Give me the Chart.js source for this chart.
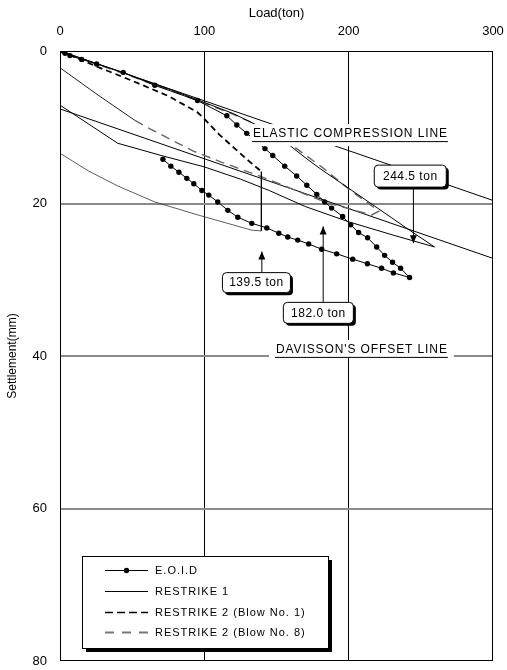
<!DOCTYPE html>
<html>
<head>
<meta charset="utf-8">
<script src="https://cdn.jsdelivr.net/npm/chart.js@4.4.0/dist/chart.umd.min.js"></script>
<style>
  html, body { margin: 0; padding: 0; background: #fff; }
</style>
</head>
<body>
<canvas id="chart" width="507" height="670"></canvas>
<script>
"use strict";

// axes
const loadTicks = [0, 100, 200, 300];
const settleTicks = [0, 20, 40, 60, 80];

// E.O.I.D (loading then unloading)
const eoidLoad = [0, 3.5, 6.9, 15, 25.4, 43.8, 65.7, 95.3, 115.6, 122.5, 129.4, 137, 142, 147.4, 155.7, 164, 171, 177.9, 183.4,
  188.2, 195.8, 201.4, 206.9, 213.1, 219.4, 224.9, 230.4, 236, 242.2,
  231, 222.8, 213, 202.8, 191.7, 181.3, 172.3, 164.7, 157.8, 151.6, 143.3, 132.9, 123.2, 116.3, 109.3, 103.1, 98.3, 92.7,
  87.9, 82.4, 76.8, 71.3];
const eoidSettle = [0, 0.3, 0.6, 1.1, 1.7, 2.8, 4.5, 6.5, 8.5, 9.7, 10.8, 12.0, 12.8, 13.7, 15.1, 16.4, 17.6, 18.8, 19.8,
  20.6, 21.7, 22.8, 23.8, 24.5, 25.7, 26.8, 27.7, 28.5, 29.7,
  29.1, 28.5, 27.9, 27.3, 26.6, 26.0, 25.3, 24.8, 24.4, 23.9, 23.2, 22.6, 21.8, 20.9, 19.8, 18.9, 18.3, 17.4,
  16.7, 15.9, 15.1, 14.2];

// RESTRIKE 1
const r1Load = [0, 40, 80, 120, 150, 170, 180, 200, 220, 244.5, 259.5, 230, 200, 170, 145, 125, 100, 70, 40, 20, 0];
const r1Settle = [0, 2.6, 5.3, 8.2, 11.0, 14.0, 15.4, 18.0, 20.6, 23.8, 25.7, 24.1, 22.4, 20.4, 18.3, 16.8, 15.2, 13.7, 12.1, 9.6, 7.1];

// RESTRIKE 2 (Blow No. 1)
const b1Load = [0, 25, 50, 75, 95, 100, 110, 120, 130, 139.5, 139.5, 133, 95.5, 65.7, 40, 19.4, 0];
const b1Settle = [0, 2.0, 3.9, 5.9, 8.0, 8.9, 10.9, 12.6, 14.3, 15.8, 23.6, 23.5, 21.5, 19.8, 17.7, 15.7, 13.4];

// RESTRIKE 2 (Blow No. 8)
const b8Load = [0, 40, 80, 120, 145, 161, 182, 200, 221, 216, 184.8, 138.4, 112.1, 92, 62.3, 51.9, 25, 0];
const b8Settle = [0, 2.7, 5.4, 8.3, 10.4, 12.4, 15.3, 18.1, 21.0, 21.5, 19.9, 16.4, 14.6, 13.1, 10.2, 9.1, 5.6, 2.2];

// reference lines
const elasticLoad = [0, 300];
const elasticSettle = [0, 19.6];
const davissonLoad = [0, 300];
const davissonSettle = [7.6, 27.2];

// capacities
const capacityLabels = ['244.5 ton', '182.0 ton', '139.5 ton'];
const capacityLoads = [244.5, 182.0, 139.5];

const pts = (xs, ys) => xs.map((v, i) => ({ x: v, y: ys[i] }));

// where the annotation boxes sit (data units for anchors)
const calloutPos = [
  { boxLoad: 217.4, boxSettle: 14.9, w: 72, h: 22, tipSettle: 25.2, down: true },
  { boxLoad: 154.4, boxSettle: 32.9, w: 70, h: 21, tipSettle: 23.0, down: false },
  { boxLoad: 112.2, boxSettle: 29.0, w: 68, h: 20, tipSettle: 26.3, down: false }
];
const lineLabels = [
  { text: 'ELASTIC COMPRESSION LINE', load: 133.7, settle: 10.9, padL: 3, padR: 5, top: 10, bottom: 12 },
  { text: "DAVISSON'S OFFSET LINE", load: 149.6, settle: 39.2, padL: 7, padR: 6, top: 10, bottom: 8 }
];
const legendItems = ['E.O.I.D', 'RESTRIKE 1', 'RESTRIKE 2 (Blow No. 1)', 'RESTRIKE 2 (Blow No. 8)'];

const FONT = '"Liberation Sans", Arial, sans-serif';
Chart.defaults.font.family = FONT;
Chart.defaults.color = '#000';

function roundRect(ctx, x, y, w, h, r) {
  ctx.beginPath();
  ctx.moveTo(x + r, y);
  ctx.arcTo(x + w, y, x + w, y + h, r);
  ctx.arcTo(x + w, y + h, x, y + h, r);
  ctx.arcTo(x, y + h, x, y, r);
  ctx.arcTo(x, y, x + w, y, r);
  ctx.closePath();
}

const overlay = {
  id: 'overlay',
  afterDatasetsDraw(chart) {
    const { ctx, chartArea: a, scales: { x, y } } = chart;
    ctx.save();

    // plot frame
    ctx.strokeStyle = '#000';
    ctx.lineWidth = 1;
    ctx.strokeRect(a.left + 0.5, a.top + 0.5, a.right - a.left - 1, a.bottom - a.top - 1);

    // line labels with underline
    ctx.font = '12px ' + FONT;
    ctx.letterSpacing = '0.9px';
    ctx.textBaseline = 'middle';
    ctx.textAlign = 'left';
    lineLabels.forEach(l => {
      const px = x.getPixelForValue(l.load);
      const py = y.getPixelForValue(l.settle);
      const w = ctx.measureText(l.text).width;
      ctx.fillStyle = '#fff';
      ctx.fillRect(px - l.padL, py - l.top, w + l.padL + l.padR, l.top + l.bottom);
      ctx.fillStyle = '#000';
      ctx.fillText(l.text, px, py);
      ctx.beginPath();
      ctx.moveTo(px - 1, py + 7.5);
      ctx.lineTo(px + w, py + 7.5);
      ctx.lineWidth = 1;
      ctx.stroke();
    });

    // capacity callouts
    ctx.letterSpacing = '0.5px';
    ctx.textAlign = 'center';
    calloutPos.forEach((c, i) => {
      const bx = x.getPixelForValue(c.boxLoad);
      const by = y.getPixelForValue(c.boxSettle);
      const ax = x.getPixelForValue(capacityLoads[i]);
      const tip = y.getPixelForValue(c.tipSettle);
      const start = c.down ? by + c.h : by;
      ctx.strokeStyle = '#000';
      ctx.lineWidth = 1;
      ctx.beginPath();
      ctx.moveTo(ax + 0.5, start);
      ctx.lineTo(ax + 0.5, tip);
      ctx.stroke();
      const dir = c.down ? -1 : 1;
      ctx.fillStyle = '#000';
      ctx.beginPath();
      ctx.moveTo(ax + 0.5, tip);
      ctx.lineTo(ax + 0.5 - 3.5, tip + dir * 8);
      ctx.lineTo(ax + 0.5 + 3.5, tip + dir * 8);
      ctx.closePath();
      ctx.fill();
      // box with shadow
      roundRect(ctx, bx + 3, by + 3, c.w, c.h, 4);
      ctx.fill();
      roundRect(ctx, bx + 0.5, by + 0.5, c.w, c.h, 4);
      ctx.fillStyle = '#fff';
      ctx.fill();
      ctx.stroke();
      ctx.fillStyle = '#000';
      ctx.fillText(capacityLabels[i], bx + c.w / 2 + 0.5, by + c.h / 2 + 1);
    });

    // legend box
    const L = 82, T = 556, R = 328, B = 648;
    ctx.fillStyle = '#000';
    ctx.fillRect(L + 4, T + 4, R - L, B - T);
    ctx.fillStyle = '#fff';
    ctx.fillRect(L, T, R - L, B - T);
    ctx.strokeStyle = '#000';
    ctx.lineWidth = 1;
    ctx.strokeRect(L + 0.5, T + 0.5, R - L, B - T);
    const rows = [570, 591, 612, 632];
    const styles = [
      { color: '#000', dash: [], width: 1, dot: true },
      { color: '#000', dash: [], width: 1, dot: false },
      { color: '#000', dash: [8, 4], width: 1.5, dot: false },
      { color: '#777', dash: [9, 8], width: 1.8, dot: false }
    ];
    ctx.font = '11px ' + FONT;
    ctx.letterSpacing = '1px';
    ctx.textAlign = 'left';
    legendItems.forEach((t, i) => {
      const s = styles[i];
      ctx.save();
      ctx.strokeStyle = s.color;
      ctx.lineWidth = s.width;
      ctx.setLineDash(s.dash);
      ctx.beginPath();
      ctx.moveTo(105, rows[i] + 0.5);
      ctx.lineTo(148, rows[i] + 0.5);
      ctx.stroke();
      ctx.restore();
      if (s.dot) {
        ctx.fillStyle = '#000';
        ctx.beginPath();
        ctx.arc(126.5, rows[i] + 0.5, 2.7, 0, Math.PI * 2);
        ctx.fill();
      }
      ctx.fillStyle = '#000';
      ctx.fillText(t, 155, rows[i] + 1);
    });
    ctx.restore();
  }
};

const b1Split = 9;   // after the plunge the curve is drawn solid
const b8Split = 15;

new Chart(document.getElementById('chart'), {
  type: 'line',
  data: {
    datasets: [
      {
        label: 'E.O.I.D', data: pts(eoidLoad, eoidSettle),
        borderColor: '#000', borderWidth: 1, pointRadius: 2.7, pointBackgroundColor: '#000',
        pointBorderWidth: 0, tension: 0
      },
      {
        label: 'RESTRIKE 1', data: pts(r1Load, r1Settle),
        borderColor: '#000', borderWidth: 1, pointRadius: 0, tension: 0
      },
      {
        label: 'RESTRIKE 2 (Blow No. 1)', data: pts(b1Load, b1Settle),
        borderColor: '#000', borderWidth: 1.8, borderDash: [6, 4], pointRadius: 0, tension: 0,
        segment: {
          borderDash: c => c.p0DataIndex >= b1Split ? [] : [6, 4],
          borderWidth: c => c.p0DataIndex > b1Split ? 0.8 : (c.p0DataIndex === b1Split ? 1.3 : 1.8),
          borderColor: c => c.p0DataIndex > b1Split ? '#333' : '#000'
        }
      },
      {
        label: 'RESTRIKE 2 (Blow No. 8)', data: pts(b8Load, b8Settle),
        borderColor: '#666', borderWidth: 1.4, borderDash: [9, 6], pointRadius: 0, tension: 0,
        segment: {
          borderDash: c => c.p0DataIndex >= b8Split ? [] : [9, 6],
          borderColor: c => c.p0DataIndex >= b8Split ? '#222' : '#666',
          borderWidth: c => c.p0DataIndex >= b8Split ? 1 : 1.4
        }
      },
      {
        label: 'elastic', data: pts(elasticLoad, elasticSettle),
        borderColor: '#000', borderWidth: 1, pointRadius: 0
      },
      {
        label: 'davisson', data: pts(davissonLoad, davissonSettle),
        borderColor: '#000', borderWidth: 1, pointRadius: 0
      }
    ]
  },
  options: {
    responsive: false,
    animation: false,
    events: [],
    layout: { padding: { left: 0, right: 14, top: 0, bottom: 9 } },
    plugins: { legend: { display: false }, tooltip: { enabled: false } },
    scales: {
      x: {
        type: 'linear', position: 'top', min: 0, max: 300,
        afterFit: s => { s.height = 51; s.paddingLeft = 0; s.paddingRight = 0; s.paddingTop = 0; s.paddingBottom = 0; },
        afterBuildTicks: s => { s.ticks = loadTicks.map(v => ({ value: v })); },
        ticks: { font: { size: 13 }, padding: 12, color: '#000' },
        grid: {
          drawTicks: false, lineWidth: 1,
          color: c => (c.tick && (c.tick.value === 100 || c.tick.value === 200)) ? '#000' : 'rgba(0,0,0,0)'
        },
        border: { display: false },
        title: { display: true, text: 'Load(ton)', font: { size: 13 }, padding: { top: 6, bottom: 0 }, color: '#000' }
      },
      y: {
        type: 'linear', reverse: true, min: 0, max: 80,
        afterFit: s => { s.width = 60; s.paddingLeft = 0; s.paddingRight = 0; s.paddingTop = 0; s.paddingBottom = 0; },
        afterBuildTicks: s => { s.ticks = settleTicks.map(v => ({ value: v })); },
        ticks: { font: { size: 13 }, padding: 13, color: '#000' },
        grid: {
          drawTicks: false, lineWidth: 2,
          color: c => (c.tick && [20, 40, 60].includes(c.tick.value)) ? '#8a8a8a' : 'rgba(0,0,0,0)'
        },
        border: { display: false },
        title: { display: true, text: 'Settlement(mm)', font: { size: 12 }, padding: { top: 5, bottom: 0 }, color: '#000' }
      }
    }
  },
  plugins: [overlay]
});
</script>
</body>
</html>
